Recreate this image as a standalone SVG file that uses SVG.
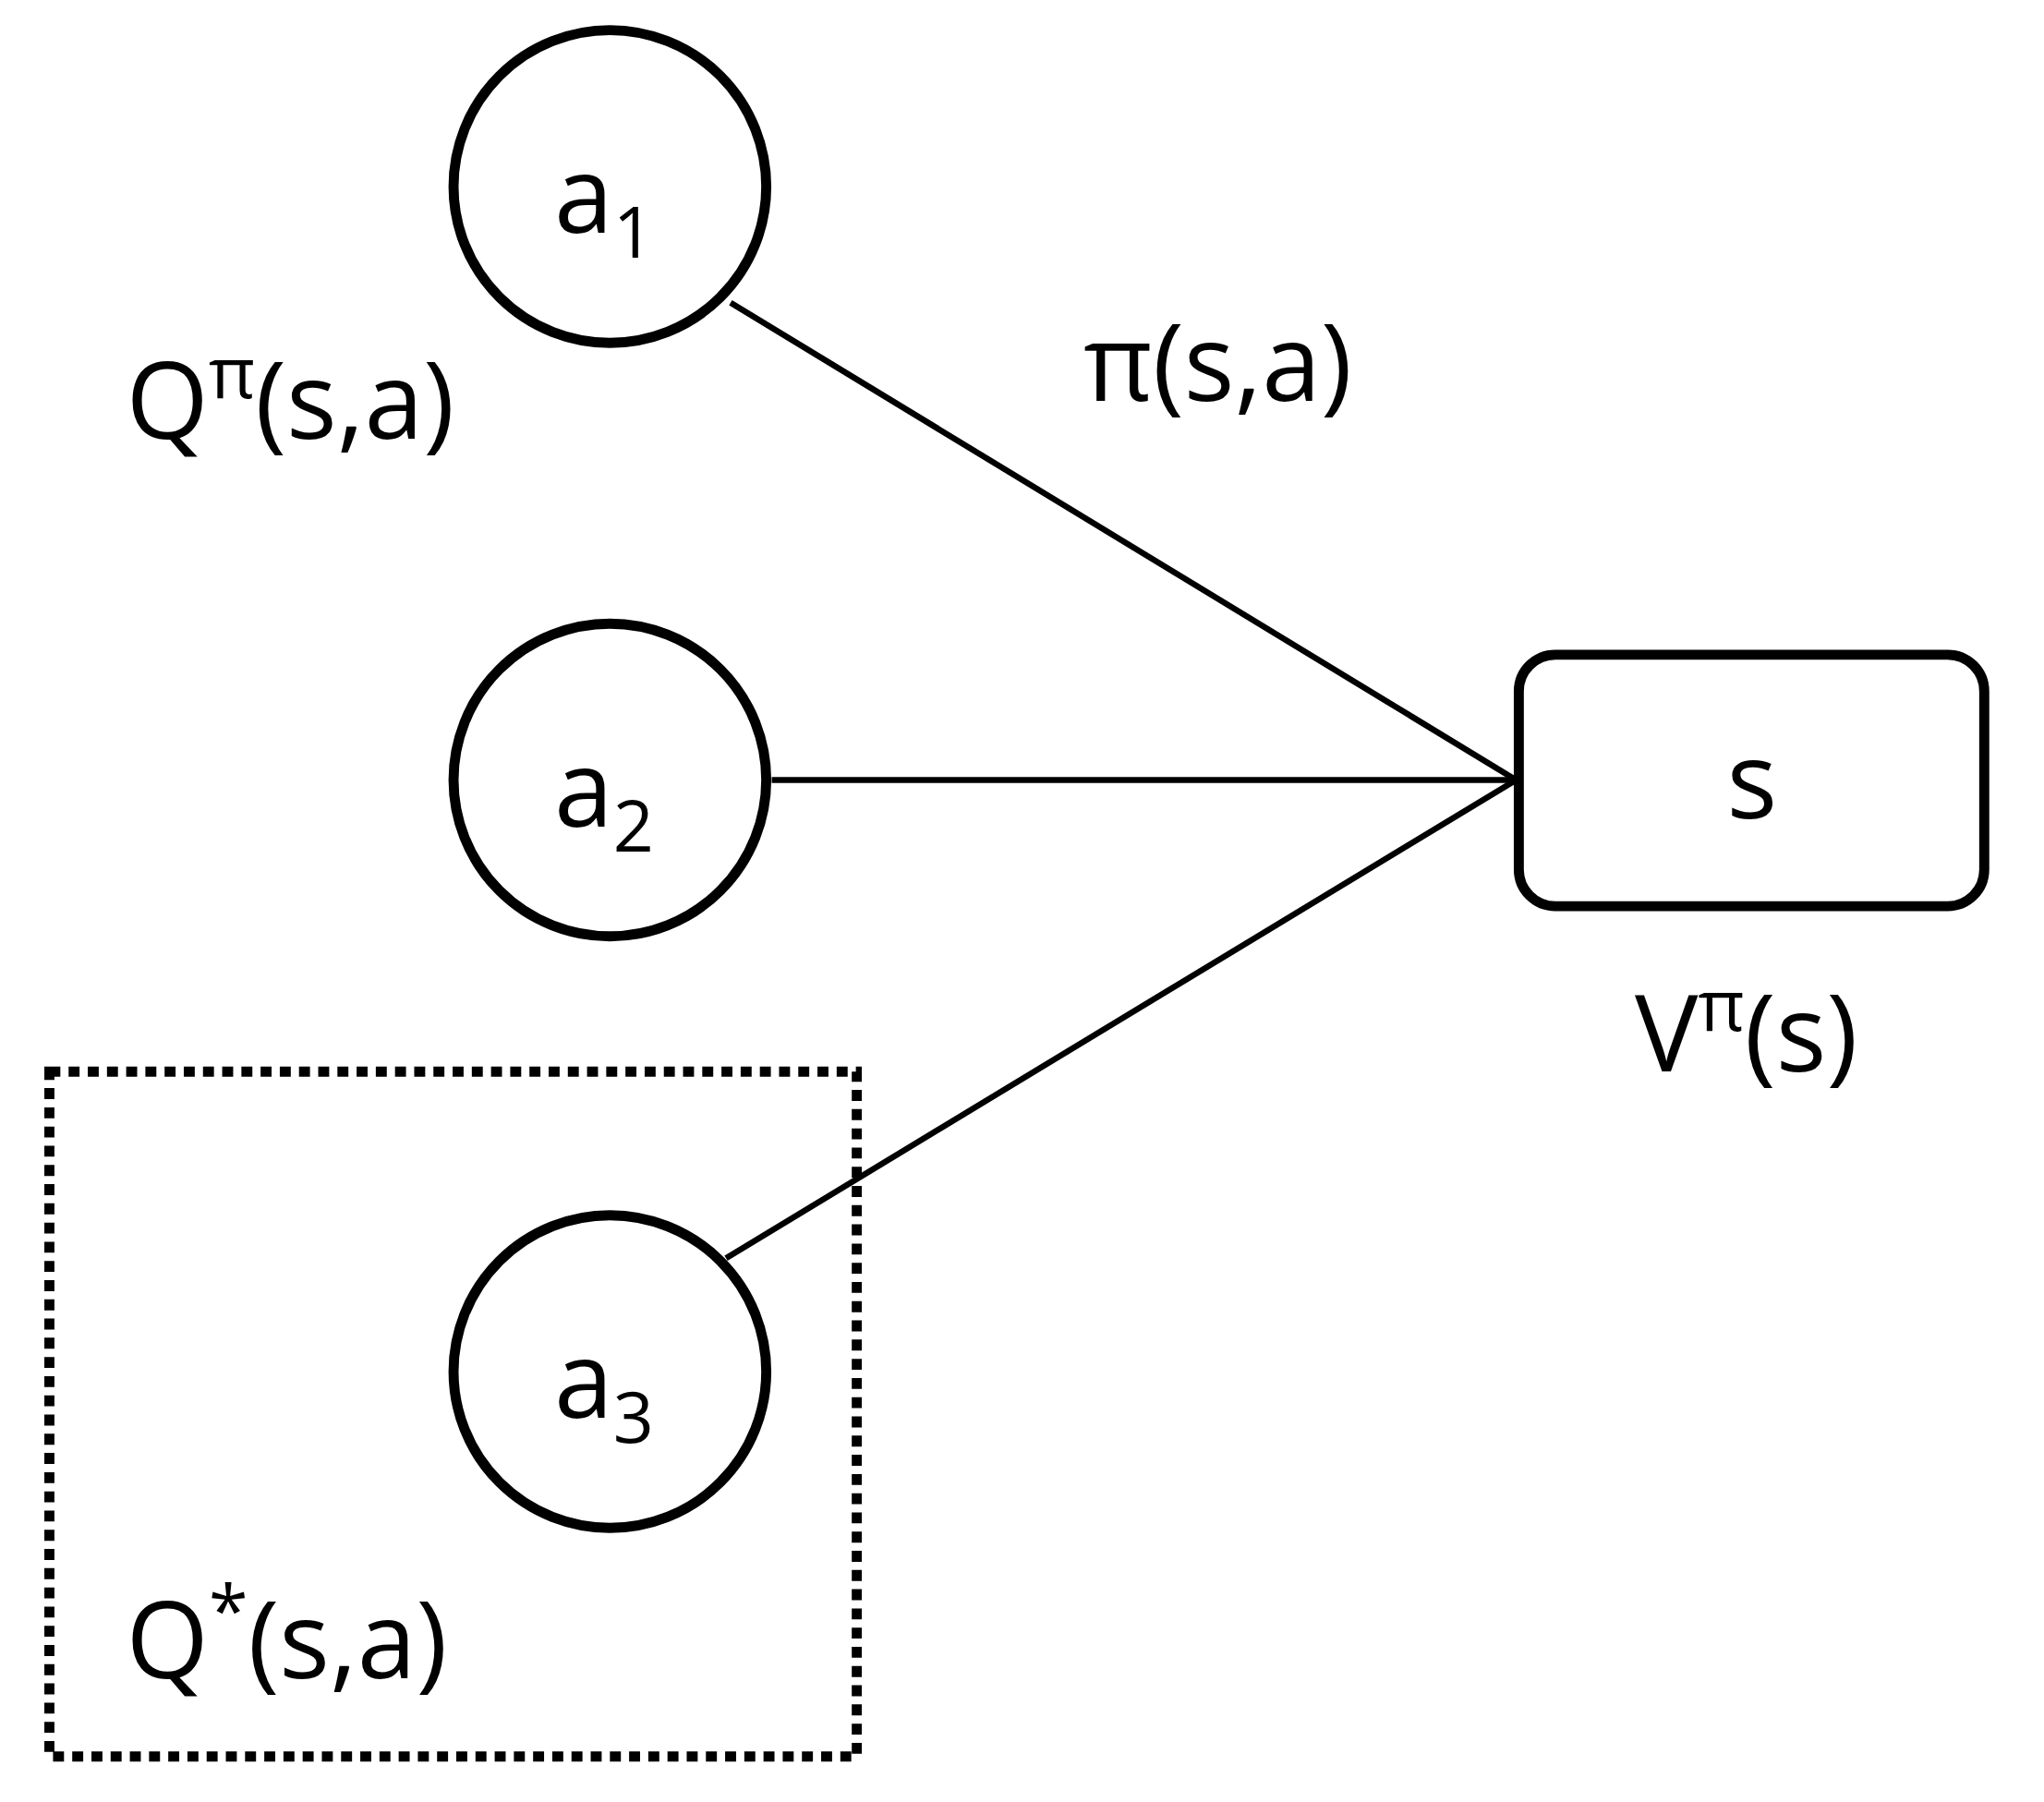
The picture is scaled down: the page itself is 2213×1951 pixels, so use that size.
<svg xmlns="http://www.w3.org/2000/svg" width="2213" height="1951" viewBox="0 0 2213 1951">
<style>
.n{fill:#fff;stroke:#000;stroke-width:11}
.c{stroke:#000;stroke-width:6.5;fill:none}
text{font-family:"Open Sans","Liberation Sans",sans-serif;fill:#000}
.t{font-size:116px}
.sub{font-size:78px}
</style>
<rect width="2213" height="1951" fill="#fff"/>
<g transform="scale(0.99)">
<g id="connectors">
<line class="c" x1="799" y1="331" x2="1658" y2="853"/>
<line class="c" x1="844" y1="853" x2="1658" y2="853"/>
<line class="c" x1="794" y1="1376" x2="1658" y2="853"/>
</g>
<g id="box"><rect x="54" y="1172" width="883" height="749" fill="none" stroke="#000" stroke-width="11" stroke-dasharray="12,9"/></g>
<g id="a1"><circle class="n" cx="667" cy="204" r="171"/><text class="t" x="606" y="255">a<tspan class="sub" dy="27">1</tspan></text></g>
<g id="a2"><circle class="n" cx="667" cy="853" r="171"/><text class="t" x="606" y="904">a<tspan class="sub" dy="27">2</tspan></text></g>
<g id="a3"><circle class="n" cx="667" cy="1500" r="171"/><text class="t" x="606" y="1551">a<tspan class="sub" dy="27">3</tspan></text></g>
<g id="s"><rect class="n" x="1661" y="716" width="509" height="275" rx="40"/><text class="t" x="1916" y="895" text-anchor="middle">s</text></g>
<g id="labels">
<text class="t" x="138" y="480">Q<tspan class="sub" dy="-45">π</tspan><tspan dy="45">(s,a)</tspan></text>
<text class="t" x="1185" y="438">π(s,a)</text>
<text class="t" x="1788" y="1172">V<tspan class="sub" dy="-45">π</tspan><tspan dy="45">(s)</tspan></text>
<text class="t" x="138" y="1835">Q<tspan class="sub" dy="-45">*</tspan><tspan dy="45">(s,a)</tspan></text>
</g>
</g>
</svg>
